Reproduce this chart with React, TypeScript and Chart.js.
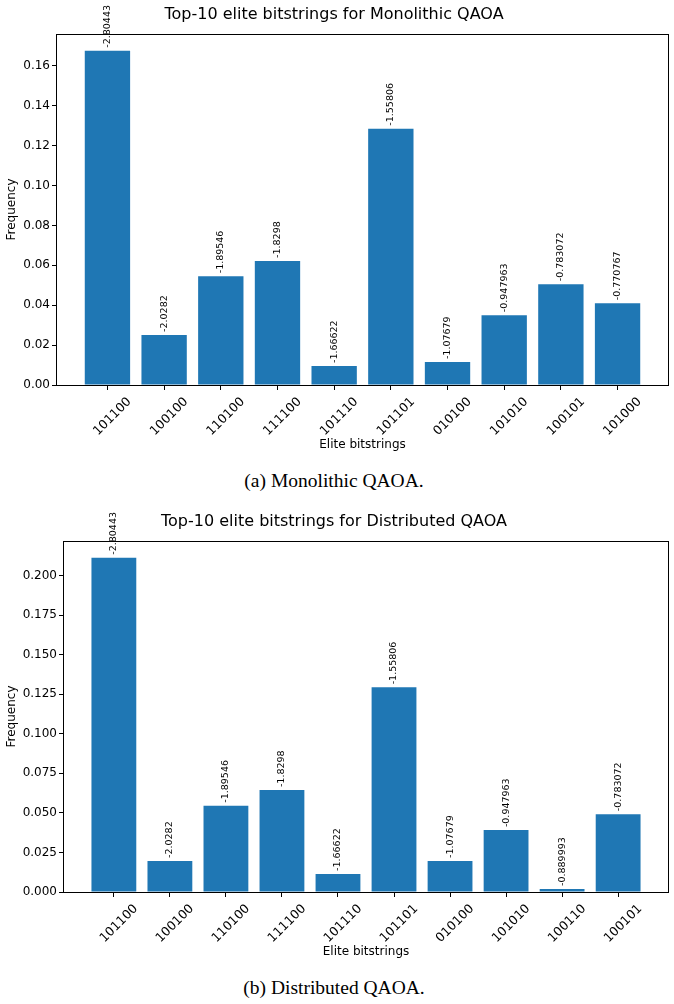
import React, { useEffect, useRef } from "react";
import { Chart, registerables } from "chart.js";

Chart.register(...registerables);

const FONT = "'DejaVu Sans', sans-serif";

// Monolithic QAOA
const monoCategories = ["101100", "100100", "110100", "111100", "101110", "101101", "010100", "101010", "100101", "101000"];
const monoFrequency = [0.1676, 0.0251, 0.0545, 0.0622, 0.0095, 0.1285, 0.0115, 0.0350, 0.0505, 0.0410];
const monoEnergies = ["-2.80443", "-2.0282", "-1.89546", "-1.8298", "-1.66622", "-1.55806", "-1.07679", "-0.947963", "-0.783072", "-0.770767"];
const monoTicks = [0, 0.02, 0.04, 0.06, 0.08, 0.1, 0.12, 0.14, 0.16];

// Distributed QAOA
const distCategories = ["101100", "100100", "110100", "111100", "101110", "101101", "010100", "101010", "100110", "100101"];
const distFrequency = [0.2112, 0.0196, 0.0545, 0.0644, 0.0114, 0.1293, 0.0196, 0.0391, 0.0019, 0.0492];
const distEnergies = ["-2.80443", "-2.0282", "-1.89546", "-1.8298", "-1.66622", "-1.55806", "-1.07679", "-0.947963", "-0.889993", "-0.783072"];
const distTicks = [0, 0.025, 0.05, 0.075, 0.1, 0.125, 0.15, 0.175, 0.2];

type ChartProps = {
  title: string;
  categories: string[];
  values: number[];
  energies: string[];
  yTicks: number[];
  decimals: number;
  yAxisWidth: number;
};

function BarChart({ title, categories, values, energies, yTicks, decimals, yAxisWidth }: ChartProps) {
  const ref = useRef<HTMLCanvasElement | null>(null);
  useEffect(() => {
    if (!ref.current) return;
    const n = categories.length;
    const xMin = -0.4 - 0.05 * (n - 1 + 0.8);
    const xMax = n - 1 + 0.4 + 0.05 * (n - 1 + 0.8);
    const yMax = Math.max(...values) * 1.05;

    const overlay = {
      id: "overlay",
      afterDatasetsDraw(chart: any) {
        const { ctx, chartArea } = chart;
        ctx.save();
        ctx.strokeStyle = "#000";
        ctx.lineWidth = 1;
        ctx.strokeRect(
          Math.round(chartArea.left) - 0.5,
          Math.round(chartArea.top) + 0.5,
          Math.round(chartArea.right) - Math.round(chartArea.left) + 1,
          Math.round(chartArea.bottom) - Math.round(chartArea.top)
        );
        const meta = chart.getDatasetMeta(0);
        ctx.fillStyle = "#000";
        ctx.font = `9.5px ${FONT}`;
        ctx.textAlign = "left";
        ctx.textBaseline = "middle";
        meta.data.forEach((bar: any, i: number) => {
          ctx.save();
          ctx.translate(bar.x, bar.y - 3);
          ctx.rotate(-Math.PI / 2);
          ctx.fillText(energies[i], 0, 0);
          ctx.restore();
        });
        ctx.restore();
      },
    };

    const gridOpts = {
      display: true,
      drawOnChartArea: false,
      drawTicks: true,
      tickLength: 5,
      tickColor: "#000",
      offset: false,
    };

    const chart = new Chart(ref.current, {
      type: "bar",
      data: {
        datasets: [
          {
            data: values.map((v, i) => ({ x: i, y: v })),
            backgroundColor: "#1f77b4",
            borderWidth: 0,
            barPercentage: 0.8,
            categoryPercentage: 1,
          },
        ],
      },
      options: {
        responsive: false,
        animation: false,
        events: [],
        layout: { padding: { left: 0, right: 6, top: 0, bottom: 4 } },
        plugins: {
          legend: { display: false },
          tooltip: { enabled: false },
          title: {
            display: true,
            text: title,
            color: "#000",
            font: { family: FONT, size: 16, weight: "normal" },
            padding: { top: 5.5, bottom: 9.3 },
          },
        },
        scales: {
          x: {
            type: "linear",
            min: xMin,
            max: xMax,
            offset: false,
            afterBuildTicks: (scale: any) => {
              scale.ticks = categories.map((_, i) => ({ value: i }));
            },
            afterFit: (scale: any) => {
              scale.height = 71;
            },
            ticks: {
              autoSkip: false,
              minRotation: 45,
              maxRotation: 45,
              padding: 4.5,
              labelOffset: 22,
              color: "#000",
              font: { family: FONT, size: 12.5 },
              callback: (v: any) => categories[Math.round(Number(v))] ?? "",
            },
            grid: gridOpts,
            border: { display: false },
            title: {
              display: true,
              text: "Elite bitstrings",
              color: "#000",
              font: { family: FONT, size: 12 },
              padding: { top: 0, bottom: 4 },
            },
          },
          y: {
            type: "linear",
            min: 0,
            max: yMax,
            afterBuildTicks: (scale: any) => {
              scale.ticks = yTicks.map((v) => ({ value: v }));
            },
            afterFit: (scale: any) => {
              scale.width = yAxisWidth;
            },
            ticks: {
              padding: 2,
              color: "#000",
              font: { family: FONT, size: 12 },
              callback: (v: any) => Number(v).toFixed(decimals),
            },
            grid: gridOpts,
            border: { display: false },
            title: {
              display: true,
              text: "Frequency",
              color: "#000",
              font: { family: FONT, size: 12 },
              padding: { top: 5, bottom: 0 },
            },
          },
        },
      },
      plugins: [overlay],
    } as any);
    return () => chart.destroy();
  }, []);
  return <canvas ref={ref} width={674} height={460} style={{ width: 674, height: 460, display: "block" }} />;
}

const captionStyle: React.CSSProperties = {
  position: "absolute",
  left: 0,
  width: 668,
  textAlign: "center",
  fontFamily: "'Liberation Serif', serif",
  fontSize: 19.5,
  lineHeight: "22px",
  color: "#000",
};

export default function App() {
  return (
    <div style={{ position: "absolute", left: 0, top: 0, width: 674, height: 1004, background: "#fff" }}>
      <div style={{ position: "absolute", left: 0, top: 0 }}>
        <BarChart
          title="Top-10 elite bitstrings for Monolithic QAOA"
          categories={monoCategories}
          values={monoFrequency}
          energies={monoEnergies}
          yTicks={monoTicks}
          decimals={2}
          yAxisWidth={57}
        />
      </div>
      <div style={{ ...captionStyle, top: 470 }}>(a) Monolithic QAOA.</div>
      <div style={{ position: "absolute", left: 0, top: 507 }}>
        <BarChart
          title="Top-10 elite bitstrings for Distributed QAOA"
          categories={distCategories}
          values={distFrequency}
          energies={distEnergies}
          yTicks={distTicks}
          decimals={3}
          yAxisWidth={64}
        />
      </div>
      <div style={{ ...captionStyle, top: 977 }}>(b) Distributed QAOA.</div>
    </div>
  );
}
